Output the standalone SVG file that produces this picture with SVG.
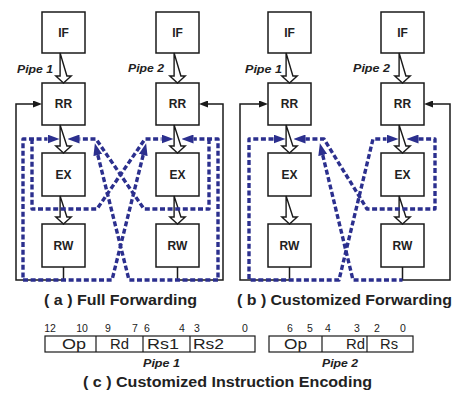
<svg xmlns="http://www.w3.org/2000/svg" width="454" height="395" viewBox="0 0 454 395">
  <style>
    .box { fill: #fff; stroke: #1a1a1a; stroke-width: 1.5; }
    .lbl { font-family: "Liberation Sans", Arial, sans-serif; font-weight: bold; font-size: 12px; text-anchor: middle; fill: #222; }
    .pipe { font-family: "Liberation Sans", Arial, sans-serif; font-weight: bold; font-style: italic; font-size: 10.5px; fill: #222; }
    .cap { font-family: "Liberation Sans", Arial, sans-serif; font-weight: bold; font-size: 14px; fill: #222; }
    .bit { font-family: "Liberation Sans", Arial, sans-serif; font-size: 10.5px; text-anchor: middle; fill: #222; }
    .fld { font-family: "Liberation Sans", Arial, sans-serif; font-size: 14.5px; fill: #222; }
    .hol { fill: #fff; stroke: #1a1a1a; stroke-width: 1.4; stroke-linejoin: miter; }
    .wire { fill: none; stroke: #1a1a1a; stroke-width: 1.5; }
    .fwd { fill: none; stroke: #2b2f8e; stroke-width: 3.4; stroke-dasharray: 5 2.6; stroke-linejoin: round; }
    .enc { fill: #fff; stroke: #1a1a1a; stroke-width: 1.2; }
  </style>
  <defs>
    <!-- hollow pipeline-stage arrows -->
    <path id="hol30" class="hol" d="M-3.4,0 V23 H-7.7 L0,30 L7.7,23 H3.4 Z"/>
    <path id="hol28" class="hol" d="M-3.4,0 V21 H-7.7 L0,28 L7.7,21 H3.4 Z"/>
    <!-- forwarding arrowhead: base sits on the path end -->
    <marker id="fh" viewBox="0 0 12 9" refX="0" refY="4.5" markerWidth="12" markerHeight="9" markerUnits="userSpaceOnUse" orient="auto-start-reverse">
      <path d="M0,0 L12,4.5 L0,9 Z" fill="#2b2f8e" stroke="none"/>
    </marker>
    <!-- write-back arrowhead -->
    <marker id="wh" viewBox="0 0 9 7" refX="0" refY="3.5" markerWidth="9" markerHeight="7" markerUnits="userSpaceOnUse" orient="auto">
      <path d="M0,0 L9,3.5 L0,7 Z" fill="#1a1a1a" stroke="none"/>
    </marker>
  </defs>

  <!-- ===== (a) Full Forwarding ===== -->
  <g id="a-pipe1">
    <g id="a-if1"><rect class="box" x="42" y="12" width="43" height="41"/><text class="lbl" x="63.5" y="37">IF</text></g>
    <g id="a-rr1"><rect class="box" x="42" y="83" width="43" height="42"/><text class="lbl" x="63.5" y="108.3">RR</text></g>
    <g id="a-ex1"><rect class="box" x="42" y="153" width="43" height="43"/><text class="lbl" x="63.5" y="178.8">EX</text></g>
    <g id="a-rw1"><rect class="box" x="42" y="224" width="43" height="43"/><text class="lbl" x="63.5" y="249.8">RW</text></g>
    <text class="pipe" x="17" y="73" textLength="36" lengthAdjust="spacingAndGlyphs">Pipe 1</text>
  </g>
  <g id="a-pipe2">
    <g id="a-if2"><rect class="box" x="156" y="12" width="43" height="41"/><text class="lbl" x="177.5" y="37">IF</text></g>
    <g id="a-rr2"><rect class="box" x="156" y="83" width="43" height="42"/><text class="lbl" x="177.5" y="108.3">RR</text></g>
    <g id="a-ex2"><rect class="box" x="156" y="153" width="43" height="43"/><text class="lbl" x="177.5" y="178.8">EX</text></g>
    <g id="a-rw2"><rect class="box" x="156" y="224" width="43" height="43"/><text class="lbl" x="177.5" y="249.8">RW</text></g>
    <text class="pipe" x="128" y="72" textLength="36" lengthAdjust="spacingAndGlyphs">Pipe 2</text>
  </g>

  <!-- ===== (b) Customized Forwarding ===== -->
  <g id="b-pipe1">
    <g id="b-if1"><rect class="box" x="268" y="12" width="43" height="41"/><text class="lbl" x="289.5" y="37">IF</text></g>
    <g id="b-rr1"><rect class="box" x="268" y="83" width="43" height="42"/><text class="lbl" x="289.5" y="108.3">RR</text></g>
    <g id="b-ex1"><rect class="box" x="268" y="153" width="43" height="43"/><text class="lbl" x="289.5" y="178.8">EX</text></g>
    <g id="b-rw1"><rect class="box" x="268" y="224" width="43" height="43"/><text class="lbl" x="289.5" y="249.8">RW</text></g>
    <text class="pipe" x="245" y="73" textLength="37" lengthAdjust="spacingAndGlyphs">Pipe 1</text>
  </g>
  <g id="b-pipe2">
    <g id="b-if2"><rect class="box" x="381" y="12" width="43" height="41"/><text class="lbl" x="402.5" y="37">IF</text></g>
    <g id="b-rr2"><rect class="box" x="381" y="83" width="43" height="42"/><text class="lbl" x="402.5" y="108.3">RR</text></g>
    <g id="b-ex2"><rect class="box" x="381" y="153" width="43" height="43"/><text class="lbl" x="402.5" y="178.8">EX</text></g>
    <g id="b-rw2"><rect class="box" x="381" y="224" width="43" height="43"/><text class="lbl" x="402.5" y="249.8">RW</text></g>
    <text class="pipe" x="353" y="72" textLength="37" lengthAdjust="spacingAndGlyphs">Pipe 2</text>
  </g>

  <g id="connectors">
    <!-- stage-to-stage hollow arrows -->
    <use href="#hol30" x="63.5" y="53"/>
    <use href="#hol28" x="63.5" y="125"/>
    <use href="#hol28" x="63.5" y="196"/>
    <use href="#hol30" x="177.5" y="53"/>
    <use href="#hol28" x="177.5" y="125"/>
    <use href="#hol28" x="177.5" y="196"/>
    <use href="#hol30" x="289.5" y="53"/>
    <use href="#hol28" x="289.5" y="125"/>
    <use href="#hol28" x="289.5" y="196"/>
    <use href="#hol30" x="402.5" y="53"/>
    <use href="#hol28" x="402.5" y="125"/>
    <use href="#hol28" x="402.5" y="196"/>

    <!-- write-back loops RW -> RR -->
    <path class="wire" d="M63.5,267 V280 H16 V104 H33" marker-end="url(#wh)"/>
    <path class="wire" d="M177.5,267 V280 H223 V104 H208" marker-end="url(#wh)"/>
    <path class="wire" d="M289.5,267 V280 H240 V104 H259" marker-end="url(#wh)"/>
    <path class="wire" d="M402.5,267 V280 H450 V104 H433" marker-end="url(#wh)"/>

    <!-- (a) forwarding paths -->
    <path class="fwd" d="M143.2,155 L112,280 H23 V139 H47.5" marker-start="url(#fh)" marker-end="url(#fh)"/>
    <path class="fwd" d="M32,139 V209 H97 L145,139 H161.5" marker-end="url(#fh)"/>
    <path class="fwd" d="M97.8,155 L129,280 H218 V139 H193.5" marker-start="url(#fh)" marker-end="url(#fh)"/>
    <path class="fwd" d="M209,139 V209 H144 L96,139 H79.5" marker-end="url(#fh)"/>

    <!-- (b) forwarding paths -->
    <path class="fwd" d="M273.5,139 H249 V280 H339 L373,139 H386.5" marker-start="url(#fh)" marker-end="url(#fh)"/>
    <path class="fwd" d="M322.7,155 L353,280 H402.5" marker-start="url(#fh)"/>
    <path class="fwd" d="M418.5,139 H435 V209 H367 L324,139 H305.5" marker-start="url(#fh)" marker-end="url(#fh)"/>
  </g>

  <text class="cap" x="44" y="305" textLength="153" lengthAdjust="spacingAndGlyphs">( a ) Full Forwarding</text>
  <text class="cap" x="237" y="305" textLength="215" lengthAdjust="spacingAndGlyphs">( b ) Customized Forwarding</text>

  <!-- ===== (c) instruction encodings ===== -->
  <g id="enc-pipe1">
    <rect class="enc" x="45" y="336" width="210" height="16"/>
    <line class="enc" x1="96" y1="336" x2="96" y2="352"/>
    <line class="enc" x1="143" y1="336" x2="143" y2="352"/>
    <line class="enc" x1="190" y1="336" x2="190" y2="352"/>
    <text class="bit" x="50" y="332">12</text>
    <text class="bit" x="82" y="332">10</text>
    <text class="bit" x="108" y="332">9</text>
    <text class="bit" x="135" y="332">7</text>
    <text class="bit" x="147" y="332">6</text>
    <text class="bit" x="182" y="332">4</text>
    <text class="bit" x="197" y="332">3</text>
    <text class="bit" x="245" y="332">0</text>
    <text class="fld" x="62" y="348.5" textLength="24" lengthAdjust="spacingAndGlyphs">Op</text>
    <text class="fld" x="110" y="348.5" textLength="19" lengthAdjust="spacingAndGlyphs">Rd</text>
    <text class="fld" x="147" y="348.5" textLength="32" lengthAdjust="spacingAndGlyphs">Rs1</text>
    <text class="fld" x="193" y="348.5" textLength="31" lengthAdjust="spacingAndGlyphs">Rs2</text>
    <text class="pipe" x="143" y="367" textLength="37" lengthAdjust="spacingAndGlyphs">Pipe 1</text>
  </g>
  <g id="enc-pipe2">
    <rect class="enc" x="269" y="336" width="144" height="16"/>
    <line class="enc" x1="322" y1="336" x2="322" y2="352"/>
    <line class="enc" x1="367" y1="336" x2="367" y2="352"/>
    <text class="bit" x="290" y="332">6</text>
    <text class="bit" x="310" y="332">5</text>
    <text class="bit" x="328" y="332">4</text>
    <text class="bit" x="357" y="332">3</text>
    <text class="bit" x="377" y="332">2</text>
    <text class="bit" x="403" y="332">0</text>
    <text class="fld" x="284" y="348.5" textLength="23" lengthAdjust="spacingAndGlyphs">Op</text>
    <text class="fld" x="346" y="348.5" textLength="19" lengthAdjust="spacingAndGlyphs">Rd</text>
    <text class="fld" x="380" y="348.5" textLength="18" lengthAdjust="spacingAndGlyphs">Rs</text>
    <text class="pipe" x="322" y="367" textLength="36" lengthAdjust="spacingAndGlyphs">Pipe 2</text>
  </g>
  <text class="cap" x="83" y="387" textLength="289" lengthAdjust="spacingAndGlyphs">( c ) Customized Instruction Encoding</text>
</svg>
